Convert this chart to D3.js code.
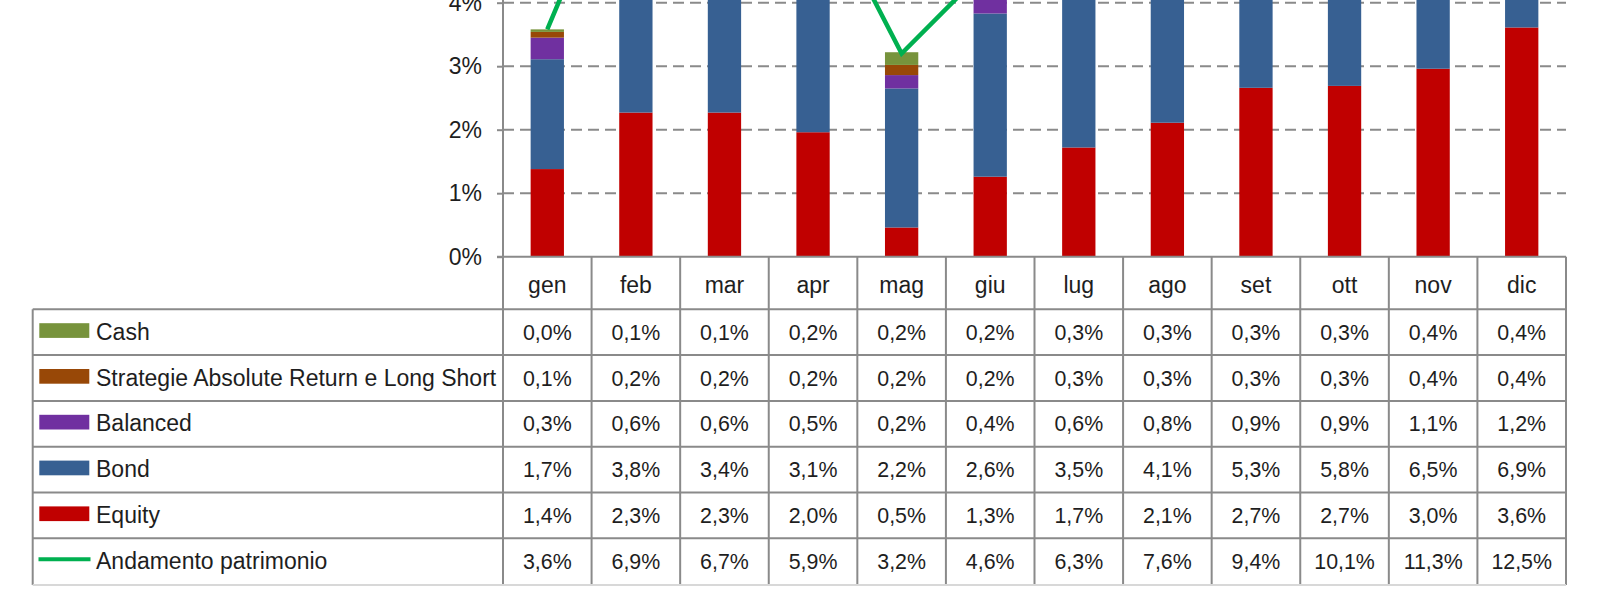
<!DOCTYPE html>
<html>
<head>
<meta charset="utf-8">
<script src="https://cdn.jsdelivr.net/npm/d3@7"></script>
<style>
  html, body { margin: 0; padding: 0; background: #ffffff; }
  svg { display: block; }
  text { font-family: "Liberation Sans", Arial, sans-serif; fill: #1e1e1e; }
</style>
</head>
<body>
<svg id="chart" width="1604" height="590"></svg>
<script>
// ---------- data ----------
const categories = ["gen","feb","mar","apr","mag","giu","lug","ago","set","ott","nov","dic"];
const cashValues      = [0.04, 0.1, 0.1, 0.2, 0.2, 0.2, 0.3, 0.3, 0.3, 0.3, 0.4, 0.4];
const strategieValues = [0.09, 0.2, 0.2, 0.2, 0.16, 0.2, 0.3, 0.3, 0.3, 0.3, 0.4, 0.4];
const balancedValues  = [0.34, 0.6, 0.6, 0.5, 0.21, 0.4, 0.6, 0.8, 0.9, 0.9, 1.1, 1.2];
const bondValues      = [1.73, 3.8, 3.4, 3.1, 2.19, 2.57, 3.5, 4.1, 5.3, 5.8, 6.5, 6.9];
const equityValues    = [1.38, 2.27, 2.27, 1.96, 0.46, 1.26, 1.72, 2.11, 2.66, 2.69, 2.96, 3.61];
const andamentoValues = [3.58, 6.9, 6.7, 5.9, 3.2, 4.6, 6.3, 7.6, 9.4, 10.1, 11.3, 12.5];
const yTicks = [0, 1, 2, 3, 4];

const seriesNames = ["Cash", "Strategie Absolute Return e Long Short", "Balanced", "Bond", "Equity", "Andamento patrimonio"];
const seriesColors = ["#77933C", "#984807", "#7030A0", "#376092", "#C00000", "#00B050"];

// ---------- layout ----------
const svg = d3.select("#chart");
svg.append("rect").attr("width", 1604).attr("height", 590).attr("fill", "#ffffff");

const plotLeft = 503, plotRight = 1566;
const x = d3.scaleBand().domain(categories).range([plotLeft, plotRight]).paddingInner(0).paddingOuter(0);
const y = d3.scaleLinear().domain([0, 4]).range([256.7, 2.7]);
const barW = x.bandwidth() * 0.376;
const cx = c => x(c) + x.bandwidth() / 2;

const lineColor = "#8a8a8a";

// gridlines
svg.append("g").selectAll("line").data(yTicks.filter(t => t > 0)).join("line")
  .attr("x1", plotLeft).attr("x2", plotRight)
  .attr("y1", d => y(d)).attr("y2", d => y(d))
  .attr("stroke", "#8a8a8a").attr("stroke-width", 2)
  .attr("stroke-dasharray", "11,6");

// stacked bars (bottom-up: Equity, Bond, Balanced, Strategie, Cash)
const stackKeys = ["equity", "bond", "balanced", "strategie", "cash"];
const stackColors = { equity: seriesColors[4], bond: seriesColors[3], balanced: seriesColors[2], strategie: seriesColors[1], cash: seriesColors[0] };
const rows = categories.map((c, i) => ({
  cat: c, equity: equityValues[i], bond: bondValues[i], balanced: balancedValues[i],
  strategie: strategieValues[i], cash: cashValues[i]
}));
const stacked = d3.stack().keys(stackKeys)(rows);

svg.append("g").selectAll("g").data(stacked).join("g")
  .attr("fill", d => stackColors[d.key])
  .selectAll("rect").data(d => d).join("rect")
  .attr("x", d => cx(d.data.cat) - barW / 2)
  .attr("width", barW)
  .attr("y", d => y(d[1]))
  .attr("height", d => Math.max(0, y(d[0]) - y(d[1])));

// line
const line = d3.line().x((d, i) => cx(categories[i])).y(d => y(d));
svg.append("path").datum(andamentoValues)
  .attr("d", line).attr("fill", "none")
  .attr("stroke", seriesColors[5]).attr("stroke-width", 4.5)
  .attr("stroke-linejoin", "miter");

// y axis
const yAxis = d3.axisLeft(y).tickValues(yTicks).tickFormat(d => d + "%").tickSize(6).tickPadding(15);
const gy = svg.append("g").attr("transform", `translate(${plotLeft},0)`).call(yAxis);
gy.select(".domain").remove();
gy.selectAll(".tick line").attr("stroke", lineColor).attr("stroke-width", 2);
gy.selectAll(".tick text").attr("font-size", 23).attr("fill", "#1e1e1e")
  .attr("font-family", "Liberation Sans, Arial, sans-serif");

// axis lines
svg.append("line").attr("x1", plotLeft).attr("x2", plotLeft).attr("y1", 0).attr("y2", 585)
  .attr("stroke", lineColor).attr("stroke-width", 2);
svg.append("line").attr("x1", plotLeft - 6).attr("x2", plotRight).attr("y1", y(0)).attr("y2", y(0))
  .attr("stroke", lineColor).attr("stroke-width", 2);

// ---------- data table ----------
const tableTop = 309.3, rowH = 45.8, tableLeft = 32.7;
const tableBottom = tableTop + rowH * 6;

// category header labels
svg.append("g").selectAll("text").data(categories).join("text")
  .attr("x", d => cx(d)).attr("y", 292.5)
  .attr("text-anchor", "middle").attr("font-size", 23)
  .text(d => d);

// vertical cell dividers (column boundaries)
const boundaries = categories.slice(1).map(c => x(c)).concat([plotRight]);
svg.append("g").selectAll("line").data(boundaries).join("line")
  .attr("x1", d => d).attr("x2", d => d)
  .attr("y1", y(0)).attr("y2", tableBottom + 1)
  .attr("stroke", lineColor).attr("stroke-width", 2);

// left border of table
svg.append("line").attr("x1", tableLeft).attr("x2", tableLeft)
  .attr("y1", tableTop).attr("y2", tableBottom + 1)
  .attr("stroke", lineColor).attr("stroke-width", 2);

// horizontal row lines
svg.append("g").selectAll("line").data(d3.range(6)).join("line")
  .attr("x1", tableLeft).attr("x2", plotRight)
  .attr("y1", i => tableTop + i * rowH).attr("y2", i => tableTop + i * rowH)
  .attr("stroke", lineColor).attr("stroke-width", 2);
svg.append("line").attr("x1", tableLeft).attr("x2", plotRight)
  .attr("y1", tableBottom + 1).attr("y2", tableBottom + 1)
  .attr("stroke", "#d8d8d8").attr("stroke-width", 2);

const tableSeries = [
  { name: seriesNames[0], color: seriesColors[0], values: cashValues, kind: "bar" },
  { name: seriesNames[1], color: seriesColors[1], values: strategieValues, kind: "bar" },
  { name: seriesNames[2], color: seriesColors[2], values: balancedValues, kind: "bar" },
  { name: seriesNames[3], color: seriesColors[3], values: bondValues, kind: "bar" },
  { name: seriesNames[4], color: seriesColors[4], values: equityValues, kind: "bar" },
  { name: seriesNames[5], color: seriesColors[5], values: andamentoValues, kind: "line" }
];
const fmt = v => v.toFixed(1).replace(".", ",") + "%";

const rowG = svg.append("g").selectAll("g").data(tableSeries).join("g")
  .attr("transform", (d, i) => `translate(0,${tableTop + i * rowH + rowH / 2})`);

// legend keys
rowG.filter(d => d.kind === "bar").append("rect")
  .attr("x", 39.3).attr("y", -9).attr("width", 50).attr("height", 14.7)
  .attr("fill", d => d.color);
rowG.filter(d => d.kind === "line").append("line")
  .attr("x1", 38.5).attr("x2", 90.5).attr("y1", -2).attr("y2", -2)
  .attr("stroke", d => d.color).attr("stroke-width", 4);

rowG.append("text")
  .attr("x", 96).attr("y", 7.5)
  .attr("font-size", 23)
  .text(d => d.name);

// value cells
rowG.selectAll("text.val").data(d => d.values.map((v, i) => ({ v, c: categories[i] }))).join("text")
  .attr("class", "val")
  .attr("text-anchor", "middle")
  .attr("font-size", 23)
  .attr("transform", d => `translate(${cx(d.c)},7.5) scale(0.93,1)`)
  .text(d => fmt(d.v));
</script>
</body>
</html>
